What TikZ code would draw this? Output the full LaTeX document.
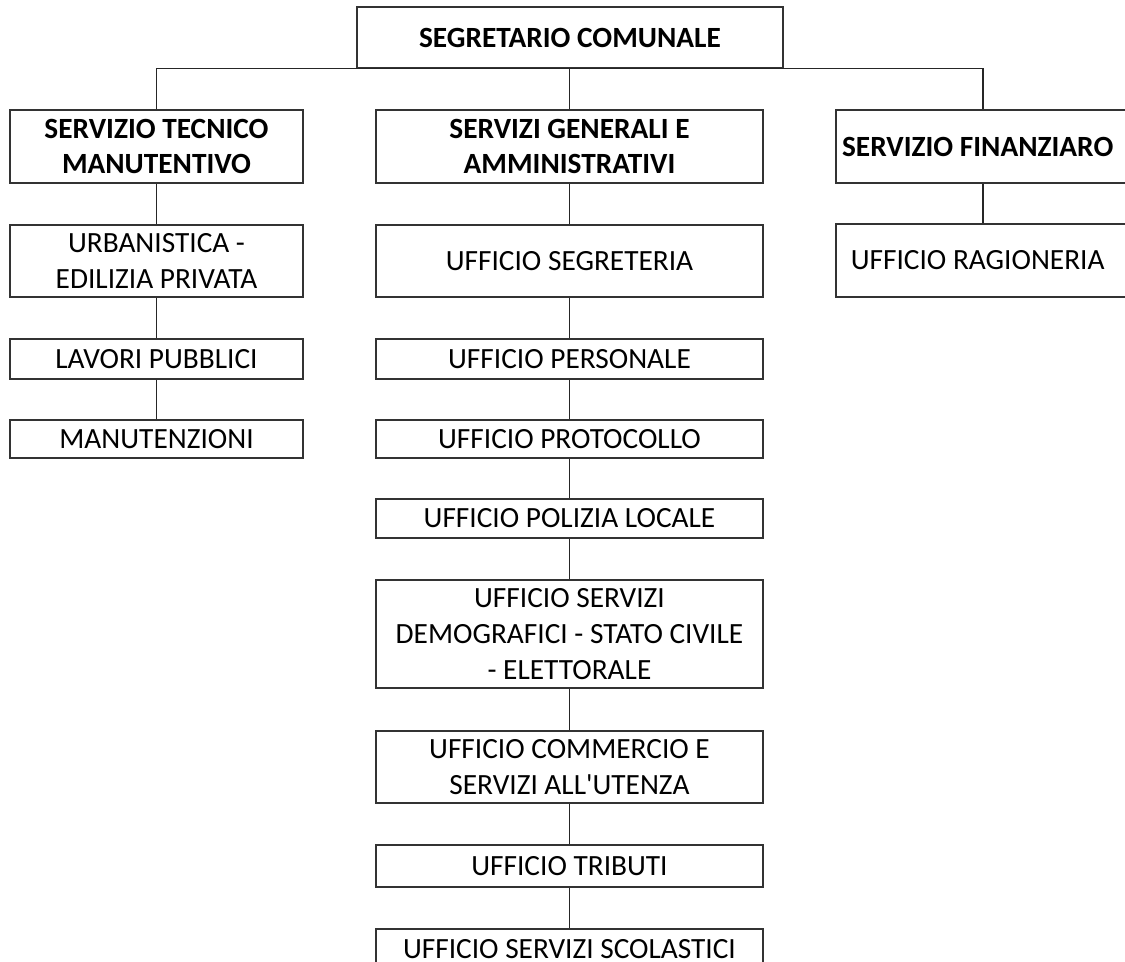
\documentclass[tikz,border=0pt]{standalone}
\usepackage{fontspec}
\setmainfont{Carlito}
\begin{document}
\begin{tikzpicture}[x=0.75pt,y=-0.75pt,
  box/.style={draw=black!80, line width=0.9pt, fill=white, inner sep=0pt, align=center,
    font=\fontsize{22}{26.8}\selectfont, text=black},
  hd/.style={box, font=\fontsize{22}{26.8}\selectfont\bfseries},
  wl/.style={minimum width=293*0.75pt},
  wm/.style={minimum width=387*0.75pt},
  wr/.style={minimum width=294*0.75pt},
  h/.style={minimum height=#1*0.75pt},
  conn/.style={draw=black!85, line width=0.8pt}]
\clip (0,0) rectangle (1125,962);
\fill[white] (0,0) rectangle (1125,962);
% head
\node[hd, minimum width=426*0.75pt, h=61] (seg) at (570,37.5) {SEGRETARIO COMUNALE};
% services
\node[hd, wl, h=73] (stm) at (156.5,146.5) {SERVIZIO TECNICO\\MANUTENTIVO};
\node[hd, wm, h=73] (sga) at (569.5,146.5) {SERVIZI GENERALI E\\AMMINISTRATIVI};
\node[hd, wr, h=73] (sf) at (983,146.5) {\hspace*{-8pt}SERVIZIO FINANZIARO};
% left column
\node[box, wl, h=72] (urb) at (156.5,261) {URBANISTICA -\\EDILIZIA PRIVATA};
\node[box, wl, h=40] (lav) at (156.5,359) {LAVORI PUBBLICI};
\node[box, wl, h=38] (man) at (156.5,439) {MANUTENZIONI};
% middle column
\node[box, wm, h=72] (usg) at (569.5,261) {UFFICIO SEGRETERIA};
\node[box, wm, h=40] (per) at (569.5,359) {UFFICIO PERSONALE};
\node[box, wm, h=38] (pro) at (569.5,439) {UFFICIO PROTOCOLLO};
\node[box, wm, h=39] (pol) at (569.5,518.5) {UFFICIO POLIZIA LOCALE};
\node[box, wm, h=108] (dem) at (569.5,634) {UFFICIO SERVIZI\\DEMOGRAFICI - STATO CIVILE\\- ELETTORALE};
\node[box, wm, h=72] (com) at (569.5,767) {UFFICIO COMMERCIO E\\SERVIZI ALL\textquotesingle UTENZA};
\node[box, wm, h=42] (tri) at (569.5,866) {UFFICIO TRIBUTI};
\node[box, wm, h=40, text depth=0pt] (sco) at (569.5,949) {UFFICIO SERVIZI SCOLASTICI};
% right column
\node[box, wr, h=73] (rag) at (983,260.5) {\hspace*{-8pt}UFFICIO RAGIONERIA};
% connectors
\draw[conn] (stm.north) |- (seg.south);
\draw[conn] (sf.north) |- (seg.south);
\draw[conn] (seg.south -| sga.north) -- (sga.north);
\draw[conn] (stm) -- (urb);
\draw[conn] (urb) -- (lav);
\draw[conn] (lav) -- (man);
\draw[conn] (sga) -- (usg);
\draw[conn] (usg) -- (per);
\draw[conn] (per) -- (pro);
\draw[conn] (pro) -- (pol);
\draw[conn] (pol) -- (dem);
\draw[conn] (dem) -- (com);
\draw[conn] (com) -- (tri);
\draw[conn] (tri) -- (sco);
\draw[conn] (sf) -- (rag);
\end{tikzpicture}
\end{document}
